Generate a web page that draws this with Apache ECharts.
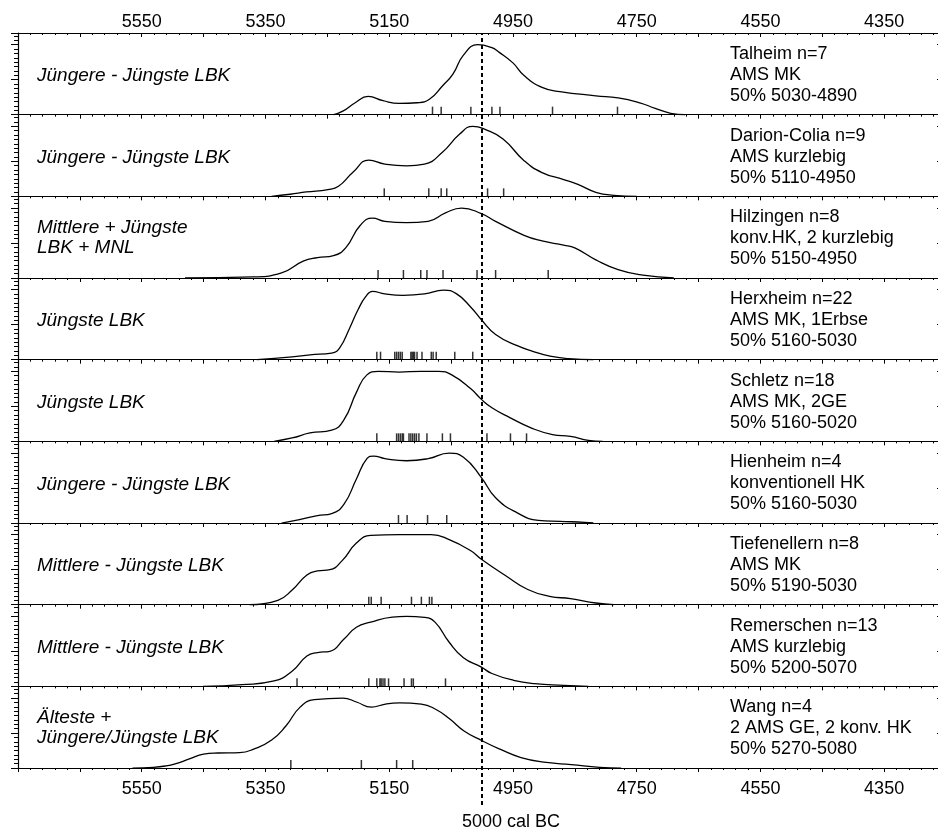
<!DOCTYPE html>
<html>
<head>
<meta charset="utf-8">
<script src="https://cdn.jsdelivr.net/npm/echarts@6/dist/echarts.min.js"></script>
<style>
  html, body { margin: 0; padding: 0; background: #fff; }
  #chart { width: 938px; height: 832px; }
</style>
</head>
<body>
<div id="chart"></div>
<script>
// Beschriftung links (Phase), rechts (Fundort, Methode, 50%-Bereich)
const periods = [
  "Jüngere - Jüngste LBK",
  "Jüngere - Jüngste LBK",
  "Mittlere + Jüngste\nLBK + MNL",
  "Jüngste LBK",
  "Jüngste LBK",
  "Jüngere - Jüngste LBK",
  "Mittlere - Jüngste LBK",
  "Mittlere - Jüngste LBK",
  "Älteste +\nJüngere/Jüngste LBK"
];
const sites = ["Talheim", "Darion-Colia", "Hilzingen", "Herxheim", "Schletz", "Hienheim", "Tiefenellern", "Remerschen", "Wang"];
const counts = [7, 9, 8, 22, 18, 4, 8, 13, 4];
const methods = ["AMS MK", "AMS kurzlebig", "konv.HK, 2 kurzlebig", "AMS MK, 1Erbse", "AMS MK, 2GE",
  "konventionell HK", "AMS MK", "AMS kurzlebig", "2 AMS GE, 2 konv. HK"];
const ranges = ["5030-4890", "5110-4950", "5150-4950", "5160-5030", "5160-5020",
  "5160-5030", "5190-5030", "5200-5070", "5270-5080"];

const xLabels = [5550, 5350, 5150, 4950, 4750, 4550, 4350];
const refYear = 5000;

// Dichtekurven [Jahr cal BC, rel. Dichte]
const talheim = [[5240,0],[5225,0.05],[5205,0.17],[5184,0.26],[5160,0.2],[5134,0.16],[5105,0.17],[5085,0.22],[5064,0.41],[5047,0.58],[5030,0.85],[5007,1.0],[4985,0.96],[4972,0.89],[4950,0.74],[4932,0.56],[4903,0.39],[4874,0.33],[4816,0.27],[4780,0.24],[4745,0.17],[4720,0.09],[4695,0.02],[4672,0]];
const darion = [[5340,0],[5310,0.03],[5284,0.063],[5249,0.097],[5232,0.145],[5209,0.34],[5183,0.517],[5157,0.46],[5122,0.435],[5093,0.46],[5064,0.63],[5036,0.89],[5015,1.0],[4995,0.957],[4966,0.82],[4932,0.51],[4903,0.34],[4868,0.24],[4845,0.17],[4816,0.058],[4787,0.015],[4750,0]];
const hilzingen = [[5480,0],[5370,0.015],[5324,0.072],[5289,0.24],[5266,0.29],[5240,0.32],[5220,0.435],[5197,0.75],[5177,0.855],[5157,0.81],[5122,0.79],[5087,0.81],[5059,0.93],[5033,1.0],[5001,0.92],[4978,0.81],[4932,0.61],[4903,0.53],[4868,0.47],[4850,0.43],[4816,0.26],[4780,0.12],[4740,0.04],[4690,0]];
const herxheim = [[5364,0],[5307,0.04],[5278,0.07],[5243,0.095],[5230,0.17],[5214,0.45],[5200,0.72],[5188,0.9],[5177,0.976],[5157,0.94],[5128,0.92],[5093,0.94],[5062,0.995],[5041,0.94],[5018,0.75],[5001,0.57],[4978,0.36],[4943,0.2],[4918,0.12],[4890,0.05],[4860,0.015],[4820,0]];
const schletz = [[5336,0],[5307,0.048],[5278,0.12],[5243,0.16],[5223,0.31],[5203,0.7],[5186,0.95],[5168,1.0],[5134,0.99],[5099,1.0],[5070,1.0],[5047,0.94],[5018,0.75],[5001,0.6],[4984,0.48],[4955,0.34],[4920,0.19],[4886,0.097],[4857,0.072],[4828,0.015],[4805,0]];
const hienheim = [[5324,0],[5295,0.048],[5266,0.106],[5243,0.135],[5223,0.27],[5203,0.63],[5186,0.92],[5175,0.957],[5157,0.92],[5122,0.89],[5087,0.92],[5053,1.0],[5030,0.94],[5001,0.65],[4978,0.36],[4943,0.145],[4909,0.039],[4874,0.024],[4834,0.01],[4820,0]];
const tiefenellern = [[5376,0],[5330,0.063],[5306,0.217],[5283,0.425],[5266,0.483],[5246,0.5],[5226,0.63],[5203,0.88],[5180,0.99],[5134,1.0],[5082,1.0],[5053,0.93],[5018,0.77],[5001,0.65],[4961,0.41],[4926,0.217],[4891,0.12],[4857,0.087],[4816,0.024],[4787,0]];
const remerschen = [[5451,0],[5388,0.024],[5336,0.077],[5307,0.217],[5283,0.435],[5266,0.483],[5246,0.5],[5223,0.676],[5203,0.845],[5180,0.918],[5145,0.99],[5122,1.0],[5093,0.985],[5076,0.918],[5053,0.63],[5030,0.41],[5001,0.275],[4984,0.184],[4949,0.087],[4915,0.039],[4868,0.015],[4828,0]];
const wang = [[5565,0],[5531,0.01],[5511,0.03],[5496,0.06],[5473,0.13],[5450,0.2],[5427,0.215],[5392,0.22],[5369,0.27],[5340,0.4],[5317,0.6],[5294,0.87],[5271,0.976],[5225,1.0],[5202,0.94],[5179,0.87],[5156,0.914],[5133,0.93],[5098,0.914],[5075,0.84],[5052,0.7],[5029,0.53],[5000,0.39],[4971,0.27],[4937,0.15],[4896,0.08],[4856,0.05],[4810,0.01],[4775,0]];

// Einzeldaten (Striche an der Basislinie)
const talheimR = [5080, 5066, 5018, 4984, 4971, 4886, 4781];
const darionR = [5158, 5086, 5066, 5057, 4991, 4965];
const hilzingenR = [5168, 5127, 5099, 5089, 5063, 5008, 4978, 4893];
const herxheimR = [5170, 5164, 5141, 5138, 5135, 5132, 5129, 5115, 5113, 5111, 5109, 5105, 5097, 5082, 5079, 5074, 5044, 5015];
const schletzR = [5170, 5138, 5135, 5132, 5129, 5127, 5118, 5115, 5112, 5109, 5106, 5102, 5089, 5064, 5051, 4992, 4954, 4928];
const hienheimR = [5135, 5121, 5088, 5057];
const tiefenellernR = [5183, 5179, 5163, 5114, 5098, 5085, 5081];
const remerschenR = [5299, 5183, 5170, 5165, 5163, 5160, 5157, 5151, 5126, 5114, 5111, 5059];
const wangR = [5309, 5195, 5138, 5112];

const curves = [talheim, darion, hilzingen, herxheim, schletz, hienheim, tiefenellern, remerschen, wang];
const rugs = [talheimR, darionR, hilzingenR, herxheimR, schletzR, hienheimR, tiefenellernR, remerschenR, wangR];

// Layout
const TOP = 33, PANEL_H = 81.67, LEFT = 18, PLOT_W = 928;
const X_MIN = 4250, X_MAX = 5750, Y_MAX = 1.167;
const FONT = '"Liberation Sans", Arial, sans-serif';
const black = '#000';
const n = curves.length;

let chart = echarts.init(document.getElementById('chart'), null, { renderer: 'canvas' });

const grids = [], xAxes = [], yAxes = [], series = [], graphics = [];

function xAxisFor(gi, pos, labels) {
  return {
    gridIndex: gi,
    type: 'value',
    position: pos,
    inverse: true,
    min: X_MIN,
    max: X_MAX,
    interval: 100,
    axisLine: { show: true, onZero: false, lineStyle: { color: black, width: 1.2 } },
    axisTick: { show: true, inside: pos === 'top', length: 4, lineStyle: { color: black, width: 1 } },
    minorTick: { show: true, splitNumber: 5, length: 2, lineStyle: { color: black, width: 1 } },
    axisLabel: {
      show: labels,
      margin: pos === 'top' ? 2 : 12,
      color: black,
      fontSize: 18,
      fontFamily: FONT,
      formatter: v => (xLabels.indexOf(v) >= 0 ? String(v) : '')
    },
    splitLine: { show: false }
  };
}

for (let i = 0; i < n; i++) {
  const top = TOP + i * PANEL_H;
  grids.push({ left: LEFT, top: top, width: PLOT_W, height: PANEL_H, containLabel: false, outerBoundsMode: 'none' });
  xAxes.push(xAxisFor(i, 'bottom', i === n - 1));
  // links große + kleine Striche, rechts nur große (innen)
  yAxes.push({
    gridIndex: i, type: 'value', position: 'left', min: 0, max: Y_MAX, interval: 0.5,
    axisLine: { show: true, onZero: false, lineStyle: { color: black, width: 1.2 } },
    axisTick: { show: true, length: 7, lineStyle: { color: black, width: 1 } },
    minorTick: { show: true, splitNumber: 8, length: 4, lineStyle: { color: black, width: 1 } },
    axisLabel: { show: false },
    splitLine: { show: false }
  });
  yAxes.push({
    gridIndex: i, type: 'value', position: 'right', min: 0, max: Y_MAX, interval: 0.5,
    axisLine: { show: true, onZero: false, lineStyle: { color: black, width: 1.2 } },
    axisTick: { show: true, inside: true, length: 9, lineStyle: { color: black, width: 1 } },
    axisLabel: { show: false },
    splitLine: { show: false }
  });

  series.push({
    type: 'line',
    xAxisIndex: i,
    yAxisIndex: i * 2,
    data: curves[i],
    smooth: 0.5,
    symbol: 'none',
    clip: false,
    lineStyle: { color: black, width: 1.3 }
  });
  series.push({
    type: 'scatter',
    xAxisIndex: i,
    yAxisIndex: i * 2,
    data: rugs[i].map(v => [v, 0]),
    symbol: 'rect',
    symbolSize: [1.5, 8],
    symbolOffset: [0, -4],
    clip: false,
    itemStyle: { color: black }
  });

  graphics.push({
    type: 'text',
    x: 37,
    y: top + (periods[i].indexOf('\n') >= 0 ? 41 : 43),
    style: {
      text: periods[i],
      fill: black,
      font: 'italic 19px ' + FONT,
      lineHeight: 20,
      verticalAlign: 'middle',
      align: 'left'
    }
  });
  graphics.push({
    type: 'text',
    x: 730,
    y: top + 42,
    style: {
      text: sites[i] + ' n=' + counts[i] + '\n' + methods[i] + '\n50% ' + ranges[i],
      fill: black,
      font: '18px ' + FONT,
      lineHeight: 21,
      verticalAlign: 'middle',
      align: 'left'
    }
  });
}

// Obere Achse am ersten Panel
xAxes.push(xAxisFor(0, 'top', true));

// Raster für die 5000-cal-BC-Linie über alle Panels
const lineGrid = grids.length;
grids.push({ left: LEFT, top: TOP, width: PLOT_W, height: 772, outerBoundsMode: 'none' });
xAxes.push({ gridIndex: lineGrid, type: 'value', inverse: true, min: X_MIN, max: X_MAX, show: false });
yAxes.push({ gridIndex: lineGrid, type: 'value', min: 0, max: 1, show: false });
series.push({
  type: 'line',
  xAxisIndex: xAxes.length - 1,
  yAxisIndex: yAxes.length - 1,
  data: [[refYear, 0], [refYear, 1]],
  symbol: 'none',
  z: 10,
  lineStyle: { color: black, width: 2, type: [4, 3] }
});

graphics.push({
  type: 'text',
  x: 462,
  y: 822,
  style: { text: refYear + ' cal BC', fill: black, font: '18px ' + FONT, verticalAlign: 'middle', align: 'left' }
});

let option = {
  backgroundColor: '#fff',
  animation: false,
  grid: grids,
  xAxis: xAxes,
  yAxis: yAxes,
  series: series,
  graphic: graphics
};

chart.setOption(option);
</script>
</body>
</html>
